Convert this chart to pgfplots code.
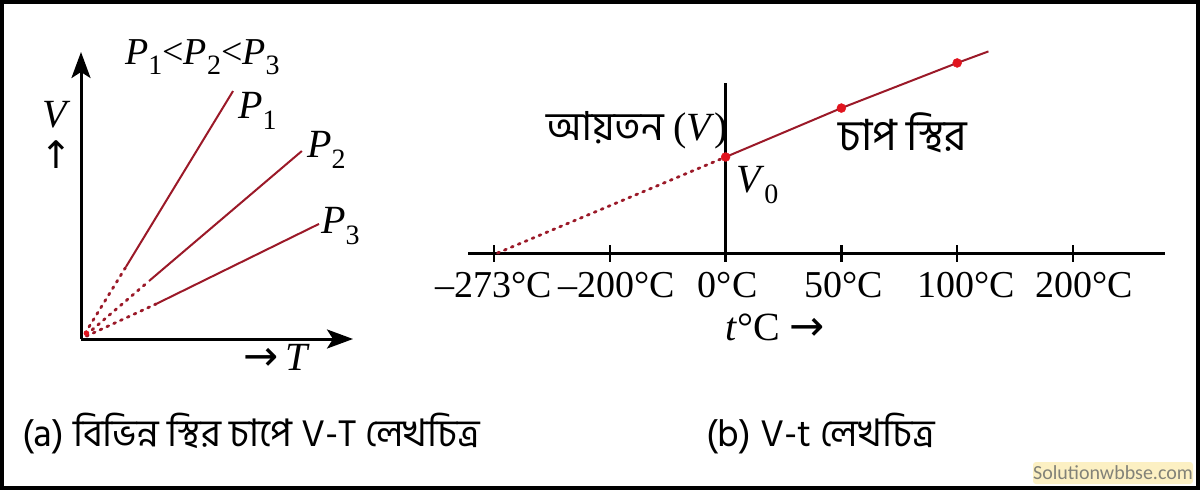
\documentclass[border=0pt]{standalone}
\usepackage{fontspec}
\usepackage{pgfplots}
\pgfplotsset{compat=1.18}
\usetikzlibrary{arrows.meta}
\setmainfont{Liberation Serif}
\newfontfamily\bn[Script=Bengali]{Hind Siliguri}
\newfontfamily\wm{Carlito}
\newfontfamily\arr{DejaVu Sans}
\definecolor{lred}{RGB}{155,25,40}
\definecolor{mred}{RGB}{225,20,30}
\definecolor{wmbg}{RGB}{252,240,195}
\definecolor{wmtx}{RGB}{130,130,120}
\newcommand\fs[1]{\fontsize{#1}{#1}\selectfont}
\newcommand\sub[1]{\raisebox{-0.28em}{\fontsize{28}{28}\selectfont #1}}

\begin{document}
\begin{tikzpicture}[x=1pt,y=1pt]
\useasboundingbox (0,0) rectangle (1200,-490);
\fill[white] (0,0) rectangle (1200,-490);
\draw[line width=4pt] (2,-2) rectangle (1198,-488);

% ---------- (a) V-T ----------
\begin{axis}[at={(81pt,-339pt)}, anchor=south west, scale only axis,
  width=272pt, height=287pt, xmin=0, xmax=10, ymin=0, ymax=10,
  axis lines=left, ticks=none,
  axis line style={line width=3pt,-{Stealth[length=26pt,width=19pt,inset=6pt]}},
  clip=false]
  % P1
  \addplot[lred, line width=2pt] coordinates {(1.65,2.51) (5.59,8.64)};
  \addplot[lred, line width=2.8pt, line cap=round, dash pattern=on 2pt off 5.5pt] coordinates {(0.15,0.2) (1.65,2.51)};
  % P2
  \addplot[lred, line width=2pt] coordinates {(2.50,2.02) (8.12,6.55)};
  \addplot[lred, line width=2.8pt, line cap=round, dash pattern=on 2pt off 5.5pt] coordinates {(0.2,0.15) (2.50,2.02)};
  % P3
  \addplot[lred, line width=2pt] coordinates {(2.76,1.22) (8.75,4.01)};
  \addplot[lred, line width=2.8pt, line cap=round, dash pattern=on 2pt off 5.5pt] coordinates {(0.2,0.1) (2.76,1.22)};
  \addplot[only marks, mark=*, mark size=2.5pt, mred] coordinates {(0.2,0.2)};
\end{axis}

% ---------- (b) V-t ----------
\begin{axis}[at={(468pt,-253pt)}, anchor=south west, scale only axis,
  width=697pt, height=203.5pt, xmin=-0.225, xmax=5.795, ymin=0, ymax=2.12,
  axis x line*=bottom, axis y line=none,
  x axis line style={line width=3pt},
  xtick={0,1,2,3,4,5},
  xticklabels={–273°C\hspace{10pt},\hspace{14pt}–200°C,\hspace{4pt}0°C,\hspace{4pt}50°C,\hspace{18pt}100°C,\hspace{22pt}200°C},
  tick align=center, major tick length=17pt,
  x tick style={line width=2.5pt,black},
  xticklabel style={font=\fs{38}, inner sep=0pt, anchor=north, yshift=-11pt},
  clip=false]
  \addplot[black, line width=2.5pt] coordinates {(2,0) (2,1.77)};
  \addplot[lred, line width=2.8pt, line cap=round, dash pattern=on 2pt off 5.5pt] coordinates {(0.03,0) (2,1)};
  \addplot[lred, line width=2pt] coordinates {(2,1) (3,1.51) (4,1.98) (4.27,2.10)};
  \addplot[only marks, mark=*, mark size=4.5pt, mred] coordinates {(2,1) (3,1.51) (4,1.98)};
\end{axis}

% ---------- labels ----------
\node[anchor=base west, inner sep=0, font=\fs{38}] at (125,-64) {\textit{P}\sub{1}<\textit{P}\sub{2}<\textit{P}\sub{3}};
\node[anchor=base west, inner sep=0, font=\fs{40}] at (238,-118) {\textit{P}\sub{1}};
\node[anchor=base west, inner sep=0, font=\fs{40}] at (307,-157) {\textit{P}\sub{2}};
\node[anchor=base west, inner sep=0, font=\fs{40}] at (321,-233) {\textit{P}\sub{3}};
\node[anchor=base, inner sep=0, font=\fs{40}] at (57,-127) {\textit{V}};
\node[inner sep=0, font=\arr\fs{38}] at (56,-155) {↑};
\node[anchor=base west, inner sep=0, font=\fs{40}] at (243,-370) {{\arr\fs{42}→}\,\textit{T}};

\node[anchor=base west, inner sep=0, font=\bn\fs{40}] at (546,-140) {আয়তন {\rmfamily(\textit{V})}};
\node[anchor=base west, inner sep=0, font=\fs{40}] at (736,-192) {\textit{V}\sub{0}};
\node[anchor=base west, inner sep=0, font=\bn\fs{43}] at (838,-150) {চাপ স্থির};
\node[anchor=base west, inner sep=0, font=\fs{40}] at (725,-340) {\textit{t}°C {\arr\fs{42}→}};

\node[anchor=base west, inner sep=0, font=\bn\fs{38}] at (22,-446) {(a) বিভিন্ন স্থির চাপে V-T লেখচিত্র};
\node[anchor=base west, inner sep=0, font=\bn\fs{38}] at (706,-446) {(b) V-t লেখচিত্র};

\node[fill=wmbg, rounded corners=3pt, minimum width=160pt, minimum height=22pt, inner sep=0, font=\wm\fs{20}, text=wmtx] at (1113,-473) {Solutionwbbse.com};
\end{tikzpicture}
\end{document}
